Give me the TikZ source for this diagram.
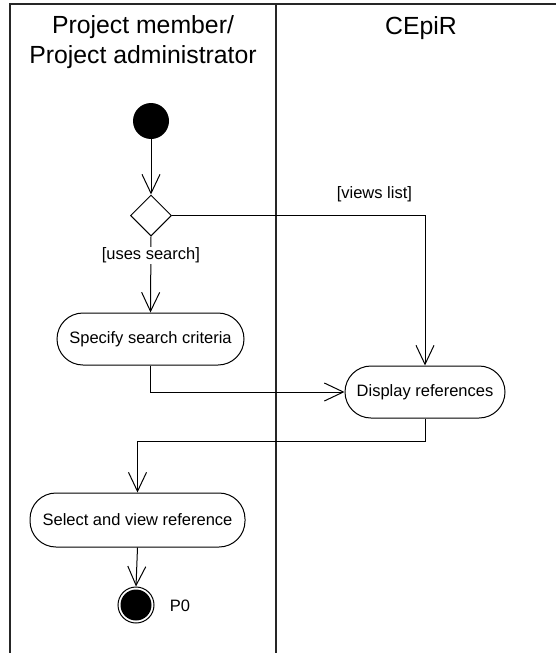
\documentclass[tikz,border=0pt]{standalone}
\usepackage{fontspec}
\setmainfont{Liberation Sans}
\usetikzlibrary{arrows.meta,shapes.geometric}

\tikzset{
  lane/.style={line width=2pt, draw=black!85},
  flow/.style={line width=1pt, -{Straight Barb[length=19pt,width=18pt,line width=1pt]}},
  activity/.style={draw, line width=1pt, rounded corners=26pt, minimum height=52pt,
    inner sep=0pt, font=\fontsize{16.5}{19}\selectfont},
  decision/.style={draw, line width=1pt, diamond, aspect=1, minimum width=41pt,
    minimum height=41pt, inner sep=0pt},
  guard/.style={font=\fontsize{16.5}{19}\selectfont, inner sep=1pt},
  header/.style={align=center, font=\fontsize{24.8}{30}\selectfont},
}

\begin{document}
\begin{tikzpicture}[x=1pt, y=-1pt]
  \useasboundingbox (0,0) rectangle (555,653);

  % swimlane frame
  \draw[lane] (10,653) -- (10,4) -- (556,4);
  \draw[lane] (276,4) -- (276,653);

  % lane headers
  \node[header] (hdrA) at (143,42) {Project member/\\Project administrator};
  \node[header] (hdrB) at (421,28) {CEpiR};

  % nodes
  \node[circle, fill=black, minimum size=36pt, inner sep=0pt] (init) at (151,121) {};
  \node[decision] (dec) at (151,215.5) {};
  \node[activity, minimum width=187pt] (spec) at (150.5,339) {Specify search criteria};
  \node[activity, minimum width=160pt] (disp) at (425,392) {Display references};
  \node[activity, minimum width=215pt, minimum height=54pt] (sel) at (137.5,520) {Select and view reference};
  \node[circle, draw, line width=1pt, minimum size=36pt, inner sep=0pt] (final) at (136,605) {};
  \fill (final.center) circle (15.5pt);
  \node[guard] (p0) at (180,606) {P0};

  % control flows
  \draw[flow] (init) -- (dec.north);
  \draw[flow] (dec.south) -- node[guard, pos=0.25, fill=white] {[uses search]} (spec.north);
  \draw[flow] (dec.east) -| node[guard, pos=0.4, above=13pt, inner sep=0pt] {[views list]} (disp.north);
  \draw[flow] (spec.south) |- (disp.west);
  \coordinate (turn) at (425,441);
  \draw[flow] (disp.south) -- (turn) -| (sel.north);
  \draw[flow] (sel.south) -- (final.north);
\end{tikzpicture}
\end{document}
